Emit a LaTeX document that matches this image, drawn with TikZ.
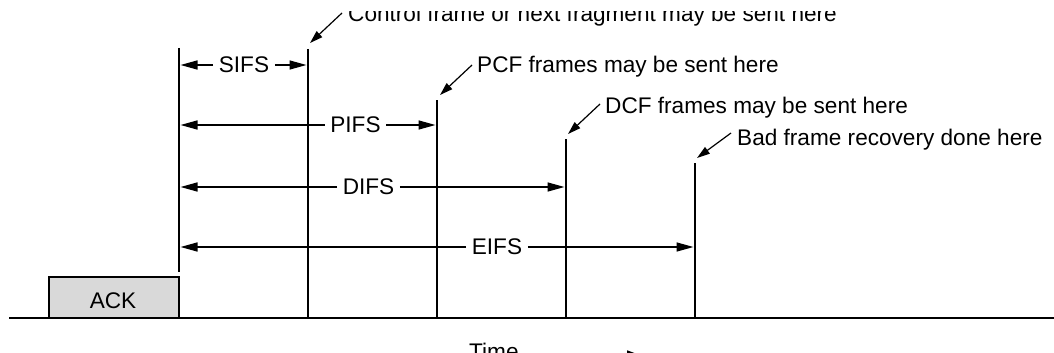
\documentclass[tikz,border=0pt]{standalone}
\usepackage{fontspec}
\setmainfont{Liberation Sans}
\usetikzlibrary{arrows.meta}
\definecolor{ackgray}{RGB}{217,217,217}
\begin{document}
\begin{tikzpicture}[x=1pt,y=-1pt,
  every node/.style={font=\fontsize{22.6}{27}\selectfont, inner sep=0pt},
  tick/.style={line width=1.9pt},
  span/.style={line width=1.5pt, -{Triangle[length=17pt,width=9pt]}, shorten >=1.5pt},
  lead/.style={line width=1.2pt, -{Triangle[length=13pt,width=8pt]}},
  gap/.style={inner xsep=5.5pt}]
\useasboundingbox (0,0) rectangle (1054,353);
\begin{scope}
\clip (0,12) rectangle (1054,353);
% time axis
\coordinate (axL) at (9,318);
\coordinate (axR) at (1054,318);
\draw[line width=1.5pt] (axL) -- (axR);
% ACK frame
\node[draw, line width=1.5pt, fill=ackgray, minimum width=130pt, minimum height=41pt] (ackbox) at (114,297.5) {};
\node[anchor=base] (ack) at (113,308) {ACK};
% end of ACK and the instants that follow it
\coordinate (l0t) at (179,48);
\coordinate (l0b) at (179,272);
\coordinate (l1t) at (308,49);
\coordinate (l2t) at (437,100);
\coordinate (l3t) at (566,139);
\coordinate (l4t) at (695,163);
\draw[tick] (l0t) -- (l0b);
\draw[tick] (l1t) -- (l1t |- axL);
\draw[tick] (l2t) -- (l2t |- axL);
\draw[tick] (l3t) -- (l3t |- axL);
\draw[tick] (l4t) -- (l4t |- axL);
% interframe spaces
\node[gap] (sifs) at (244,65) {SIFS};
\node[gap] (pifs) at (355.5,125) {PIFS};
\node[gap] (difs) at (368.5,187) {DIFS};
\node[gap] (eifs) at (497,247) {EIFS};
\draw[span] (sifs.west) -- (sifs.west -| l0t);
\draw[span] (sifs.east) -- (sifs.east -| l1t);
\draw[span] (pifs.west) -- (pifs.west -| l0t);
\draw[span] (pifs.east) -- (pifs.east -| l2t);
\draw[span] (difs.west) -- (difs.west -| l0t);
\draw[span] (difs.east) -- (difs.east -| l3t);
\draw[span] (eifs.west) -- (eifs.west -| l0t);
\draw[span] (eifs.east) -- (eifs.east -| l4t);
% callouts
\node[anchor=base west] (cf) at (348,22) {Control frame or next fragment may be sent here};
\node[anchor=base west] (pcf) at (477,73) {PCF frames may be sent here};
\node[anchor=base west] (dcf) at (605,113) {DCF frames may be sent here};
\node[anchor=base west] (bad) at (737,145) {Bad frame recovery done here};
\coordinate (cfs) at (342,13);   \coordinate (cfe) at (310,43);
\coordinate (pcfs) at (472,65);  \coordinate (pcfe) at (440,95);
\coordinate (dcfs) at (600,104); \coordinate (dcfe) at (568,134);
\coordinate (bads) at (731,133); \coordinate (bade) at (697,158);
\draw[lead] (cfs) -- (cfe);
\draw[lead] (pcfs) -- (pcfe);
\draw[lead] (dcfs) -- (dcfe);
\draw[lead] (bads) -- (bade);
% time direction
\node[anchor=base west] (time) at (469,359) {Time};
\coordinate (timeS) at (530,355);
\coordinate (timeE) at (640,355);
\draw[line width=1.5pt, -{Triangle[length=13pt,width=9pt]}] (timeS) -- (timeE);
\end{scope}
\end{tikzpicture}
\end{document}
